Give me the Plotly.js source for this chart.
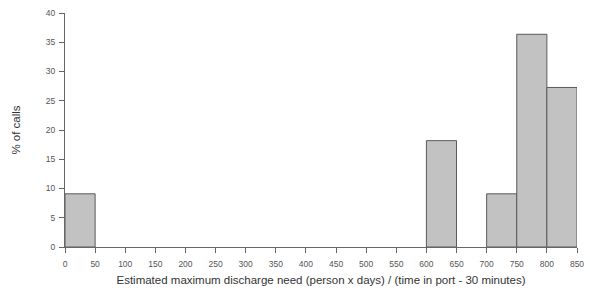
<!DOCTYPE html>
<html><head><meta charset="utf-8">
<script src="https://cdn.plot.ly/plotly-3.0.1.min.js"></script>
<style>html,body{margin:0;padding:0;background:#fff}#c{width:590px;height:291px}</style>
</head><body><div id="c"></div>
<script>
const binStarts = [0, 600, 700, 750, 800];
const binWidth = 50;
const pctCalls = [9.09, 18.18, 9.09, 36.36, 27.27];
const xTicks = [0,50,100,150,200,250,300,350,400,450,500,550,600,650,700,750,800,850];
const yTicks = [0,5,10,15,20,25,30,35,40];

const trace = {
  type: 'bar',
  x: binStarts.map(s => s + binWidth/2),
  y: pctCalls,
  width: binWidth,
  marker: {color: '#c2c2c2', line: {color: '#5a5a5a', width: 1}},
  hoverinfo: 'skip'
};
const axisFont = {family: 'Liberation Sans, Arial, sans-serif', size: 8.5, color: '#555'};
const titleFont = {family: 'Liberation Sans, Arial, sans-serif', size: 11.5, color: '#333'};
const layout = {
  width: 590, height: 291,
  margin: {l: 65, r: 13, t: 13, b: 44},
  paper_bgcolor: '#fff', plot_bgcolor: '#fff',
  showlegend: false,
  bargap: 0,
  xaxis: {
    range: [0, 850], tickvals: xTicks, ticktext: xTicks.map(String),
    showgrid: false, zeroline: false, showline: true, linecolor: '#666', linewidth: 1,
    ticks: 'outside', ticklen: 5, tickcolor: '#666', tickfont: axisFont, ticklabelstandoff: 4,
    automargin: false,
    title: {text: 'Estimated maximum discharge need (person x days) / (time in port - 30 minutes)',
      font: titleFont, standoff: 7}
  },
  yaxis: {
    range: [0, 40], tickvals: yTicks, ticktext: yTicks.map(String),
    showgrid: false, zeroline: false, showline: true, linecolor: '#666', linewidth: 1,
    ticks: 'outside', ticklen: 5, tickcolor: '#666', tickfont: axisFont, ticklabelstandoff: 2,
    automargin: false,
    title: {text: '% of calls', font: titleFont, standoff: 22}
  }
};
Plotly.newPlot('c', [trace], layout, {displayModeBar: false, staticPlot: true});
</script></body></html>
